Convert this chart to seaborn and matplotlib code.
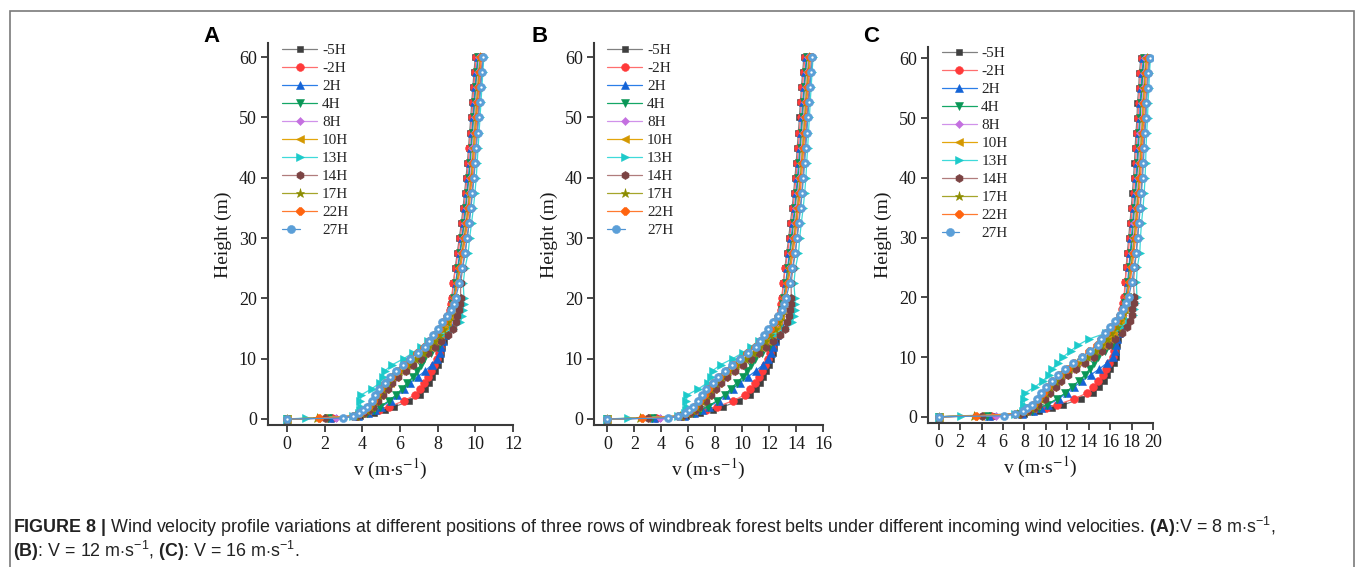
import matplotlib
matplotlib.use("Agg")
import matplotlib.pyplot as plt
import seaborn as sns
from matplotlib.patches import Rectangle
from matplotlib.legend_handler import HandlerTuple

# ---------------- data ----------------
H = [0, 0.15, 0.5, 1, 1.5, 2, 3, 4, 5, 6, 7, 8, 9, 10, 11, 12, 13, 14, 15, 16, 17, 18, 19,
     20, 22.5, 25, 27.5, 30, 32.5, 35, 37.5, 40, 42.5, 45, 47.5, 50, 52.5, 55, 57.5, 60]

LABELS = ['-5H', '-2H', '2H', '4H', '8H', '10H', '13H', '14H', '17H', '22H', '27H']

# Panel A (V = 8 m/s)
A_m5H = [0, 2.5, 3.9, 4.6, 5.2, 5.7, 6.5, 7.05, 7.35, 7.55, 7.7, 7.85, 8.0, 8.1, 8.18, 8.25, 8.32, 8.4, 8.48, 8.55, 8.62, 8.67, 8.72,
         8.76, 8.84, 8.93, 9.04, 9.15, 9.26, 9.35, 9.43, 9.51, 9.58, 9.64, 9.7, 9.76, 9.81, 9.87, 9.93, 10.0]
A_m2H = [0, 2.4, 3.7, 4.3, 4.9, 5.4, 6.2, 6.8, 7.05, 7.3, 7.5, 7.65, 7.8, 7.95, 8.05, 8.12, 8.2, 8.3, 8.4, 8.5, 8.6, 8.65, 8.7,
         8.74, 8.83, 8.95, 9.08, 9.2, 9.31, 9.4, 9.48, 9.56, 9.63, 9.69, 9.75, 9.81, 9.86, 9.92, 9.98, 10.05]
A_2H = [0, 2.3, 3.8, 4.3, 4.7, 5.0, 5.5, 5.85, 6.2, 6.55, 6.95, 7.35, 7.7, 7.95, 8.1, 8.2, 8.3, 8.4, 8.5, 8.58, 8.65, 8.72, 8.78,
        8.83, 8.95, 9.06, 9.17, 9.28, 9.38, 9.47, 9.55, 9.63, 9.7, 9.76, 9.82, 9.88, 9.93, 9.99, 10.05, 10.12]
A_4H = [0, 2.2, 3.7, 4.25, 4.6, 4.95, 5.4, 5.8, 6.1, 6.4, 6.7, 6.9, 7.1, 7.3, 7.65, 8.0, 8.2, 8.35, 8.48, 8.58, 8.66, 8.74, 8.8,
        8.86, 8.99, 9.1, 9.21, 9.32, 9.42, 9.51, 9.59, 9.67, 9.74, 9.8, 9.86, 9.92, 9.97, 10.03, 10.09, 10.16]
A_8H = [0, 2.6, 3.7, 4.1, 4.35, 4.55, 4.8, 5.0, 5.25, 5.5, 5.8, 6.2, 6.6, 7.0, 7.45, 7.75, 8.0, 8.2, 8.4, 8.55, 8.65, 8.74, 8.82,
        8.88, 9.02, 9.14, 9.26, 9.37, 9.47, 9.56, 9.64, 9.72, 9.79, 9.85, 9.91, 9.97, 10.02, 10.08, 10.14, 10.21]
A_10H = [0, 1.9, 3.6, 4.0, 4.25, 4.45, 4.7, 4.95, 5.2, 5.45, 5.75, 6.1, 6.5, 6.95, 7.3, 7.6, 7.9, 8.15, 8.35, 8.5, 8.62, 8.72, 8.8,
         8.87, 9.03, 9.16, 9.29, 9.41, 9.52, 9.61, 9.69, 9.77, 9.84, 9.9, 9.96, 10.02, 10.07, 10.13, 10.19, 10.26]
A_13H = [0, 1.0, 3.5, 3.85, 3.9, 3.92, 3.9, 3.95, 4.5, 4.95, 5.1, 5.2, 5.6, 6.2, 6.7, 7.1, 7.5, 8.2, 8.8, 9.2, 9.3, 9.35, 9.38,
         9.4, 9.36, 9.45, 9.62, 9.7, 9.8, 9.9, 9.98, 10.05, 10.1, 10.15, 10.2, 10.25, 10.3, 10.35, 10.4, 10.45]
A_14H = [0, 2.0, 3.7, 4.1, 4.35, 4.55, 4.85, 5.1, 5.35, 5.6, 5.9, 6.3, 6.7, 7.1, 7.5, 7.85, 8.2, 8.55, 8.8, 8.95, 9.05, 9.12, 9.18,
         9.22, 9.22, 9.33, 9.46, 9.56, 9.66, 9.75, 9.83, 9.9, 9.96, 10.02, 10.08, 10.14, 10.19, 10.25, 10.31, 10.38]
A_17H = [0, 1.6, 3.6, 3.95, 4.2, 4.4, 4.65, 4.85, 5.05, 5.3, 5.6, 5.95, 6.35, 6.8, 7.2, 7.5, 7.8, 8.05, 8.3, 8.48, 8.62, 8.72, 8.8,
         8.87, 9.02, 9.16, 9.3, 9.42, 9.53, 9.62, 9.7, 9.78, 9.85, 9.91, 9.97, 10.03, 10.08, 10.14, 10.2, 10.27]
A_22H = [0, 1.7, 3.5, 3.9, 4.1, 4.3, 4.55, 4.75, 4.95, 5.2, 5.5, 5.85, 6.2, 6.55, 6.9, 7.3, 7.55, 7.8, 8.05, 8.3, 8.5, 8.7, 8.82,
         8.9, 9.07, 9.21, 9.35, 9.47, 9.58, 9.67, 9.75, 9.83, 9.9, 9.96, 10.02, 10.08, 10.13, 10.19, 10.25, 10.32]
A_27H = [0, 3.0, 3.5, 3.85, 4.05, 4.25, 4.5, 4.7, 4.9, 5.2, 5.45, 5.8, 6.15, 6.55, 6.95, 7.35, 7.55, 7.75, 8.0, 8.25, 8.5, 8.7, 8.85,
         8.95, 9.15, 9.3, 9.45, 9.57, 9.68, 9.77, 9.85, 9.93, 10.0, 10.06, 10.12, 10.18, 10.23, 10.29, 10.35, 10.42]

# Panel B (V = 12 m/s)
B_m5H = [0, 3.75, 5.85, 6.9, 7.8, 8.55, 9.75, 10.58, 11.03, 11.33, 11.55, 11.78, 12.0, 12.15, 12.27, 12.38, 12.48, 12.6, 12.67, 12.75, 12.83, 12.87, 12.93,
         12.96, 13.06, 13.17, 13.31, 13.45, 13.58, 13.71, 13.82, 13.92, 14.01, 14.09, 14.17, 14.25, 14.32, 14.4, 14.49, 14.58]
B_m2H = [0, 3.6, 5.55, 6.45, 7.35, 8.1, 9.3, 10.2, 10.58, 10.95, 11.25, 11.48, 11.7, 11.93, 12.08, 12.18, 12.3, 12.45, 12.55, 12.67, 12.8, 12.85, 12.9,
         12.93, 13.05, 13.2, 13.37, 13.52, 13.66, 13.78, 13.89, 13.99, 14.09, 14.17, 14.25, 14.33, 14.39, 14.47, 14.56, 14.66]
B_2H = [0, 3.45, 5.7, 6.45, 7.05, 7.5, 8.25, 8.78, 9.3, 9.83, 10.43, 11.03, 11.55, 11.93, 12.15, 12.3, 12.45, 12.6, 12.7, 12.79, 12.88, 12.95, 13.02,
        13.07, 13.23, 13.36, 13.51, 13.64, 13.76, 13.89, 14.0, 14.1, 14.19, 14.27, 14.35, 14.43, 14.5, 14.58, 14.67, 14.76]
B_4H = [0, 3.3, 5.55, 6.38, 6.9, 7.43, 8.1, 8.7, 9.15, 9.6, 10.05, 10.35, 10.65, 10.95, 11.48, 12.0, 12.3, 12.53, 12.67, 12.79, 12.89, 12.98, 13.05,
        13.11, 13.29, 13.42, 13.57, 13.7, 13.82, 13.95, 14.06, 14.16, 14.25, 14.33, 14.41, 14.49, 14.56, 14.64, 14.73, 14.82]
B_8H = [0, 3.9, 5.55, 6.15, 6.53, 6.83, 7.2, 7.5, 7.88, 8.25, 8.7, 9.3, 9.9, 10.5, 11.18, 11.63, 12.0, 12.3, 12.55, 12.75, 12.88, 12.98, 13.08,
        13.14, 13.33, 13.48, 13.64, 13.78, 13.9, 14.02, 14.13, 14.23, 14.33, 14.41, 14.49, 14.57, 14.63, 14.71, 14.8, 14.9]
B_10H = [0, 2.85, 5.4, 6.0, 6.38, 6.68, 7.05, 7.43, 7.8, 8.18, 8.63, 9.15, 9.75, 10.43, 10.95, 11.4, 11.85, 12.23, 12.48, 12.67, 12.83, 12.95, 13.05,
         13.13, 13.35, 13.51, 13.69, 13.84, 13.97, 14.1, 14.21, 14.31, 14.4, 14.48, 14.56, 14.64, 14.71, 14.79, 14.88, 14.97]
B_13H = [0, 1.5, 5.25, 5.78, 5.85, 5.88, 5.85, 5.93, 6.75, 7.43, 7.65, 7.8, 8.4, 9.3, 10.05, 10.65, 11.25, 12.3, 13.15, 13.72, 13.85, 13.9, 13.92,
         13.92, 13.84, 13.95, 14.18, 14.27, 14.39, 14.53, 14.64, 14.73, 14.79, 14.86, 14.92, 14.99, 15.05, 15.12, 15.19, 15.26]
B_14H = [0, 3.0, 5.55, 6.15, 6.53, 6.83, 7.28, 7.65, 8.03, 8.4, 8.85, 9.45, 10.05, 10.65, 11.25, 11.78, 12.3, 12.83, 13.15, 13.35, 13.48, 13.55, 13.62,
         13.65, 13.63, 13.77, 13.94, 14.06, 14.18, 14.31, 14.42, 14.5, 14.58, 14.66, 14.74, 14.82, 14.89, 14.97, 15.06, 15.15]
B_17H = [0, 2.4, 5.4, 5.93, 6.3, 6.6, 6.98, 7.28, 7.58, 7.95, 8.4, 8.93, 9.53, 10.2, 10.8, 11.25, 11.7, 12.08, 12.4, 12.64, 12.83, 12.95, 13.05,
         13.13, 13.33, 13.51, 13.7, 13.85, 13.99, 14.11, 14.22, 14.32, 14.42, 14.5, 14.58, 14.66, 14.72, 14.8, 14.89, 14.99]
B_22H = [0, 2.55, 5.25, 5.85, 6.15, 6.45, 6.83, 7.13, 7.43, 7.8, 8.25, 8.78, 9.3, 9.83, 10.35, 10.95, 11.33, 11.7, 12.03, 12.37, 12.65, 12.92, 13.08,
         13.17, 13.41, 13.59, 13.78, 13.93, 14.06, 14.19, 14.3, 14.4, 14.49, 14.57, 14.65, 14.73, 14.8, 14.88, 14.97, 15.06]
B_27H = [0, 4.5, 5.25, 5.78, 6.08, 6.38, 6.75, 7.05, 7.35, 7.8, 8.18, 8.7, 9.23, 9.83, 10.43, 11.03, 11.33, 11.63, 11.95, 12.3, 12.65, 12.92, 13.13,
         13.25, 13.53, 13.72, 13.93, 14.08, 14.21, 14.34, 14.45, 14.55, 14.64, 14.72, 14.8, 14.88, 14.95, 15.03, 15.12, 15.21]

# Panel C (V = 16 m/s)
C_m5H = [0, 5.1, 7.96, 9.38, 10.61, 11.63, 13.26, 14.38, 14.99, 15.4, 15.71, 16.01, 16.32, 16.52, 16.58, 16.65, 16.72, 16.8, 16.96, 17.01, 17.15, 17.17, 17.26,
         17.34, 17.41, 17.49, 17.61, 17.73, 17.85, 17.97, 18.08, 18.18, 18.27, 18.33, 18.41, 18.51, 18.55, 18.66, 18.73, 18.86]
C_m2H = [0, 4.9, 7.55, 8.77, 10.0, 11.02, 12.65, 13.87, 14.38, 14.89, 15.3, 15.61, 15.91, 16.22, 16.32, 16.39, 16.48, 16.6, 16.8, 16.91, 17.11, 17.13, 17.22,
         17.3, 17.39, 17.53, 17.69, 17.83, 17.95, 18.07, 18.18, 18.28, 18.37, 18.43, 18.51, 18.61, 18.65, 18.76, 18.83, 18.96]
C_2H = [0, 4.69, 7.75, 8.77, 9.59, 10.2, 11.22, 11.93, 12.65, 13.36, 14.18, 14.99, 15.71, 16.22, 16.42, 16.55, 16.68, 16.8, 17.0, 17.07, 17.21, 17.27, 17.38,
        17.48, 17.63, 17.75, 17.87, 17.99, 18.09, 18.21, 18.32, 18.42, 18.51, 18.57, 18.65, 18.75, 18.79, 18.9, 18.97, 19.1]
C_4H = [0, 4.49, 7.55, 8.67, 9.38, 10.1, 11.02, 11.83, 12.44, 13.06, 13.67, 14.08, 14.48, 14.89, 15.52, 16.15, 16.48, 16.7, 16.96, 17.07, 17.23, 17.31, 17.42,
        17.54, 17.71, 17.83, 17.95, 18.07, 18.17, 18.29, 18.4, 18.5, 18.59, 18.65, 18.73, 18.83, 18.87, 18.98, 19.05, 19.18]
C_8H = [0, 5.3, 7.55, 8.36, 8.87, 9.28, 9.79, 10.2, 10.71, 11.22, 11.83, 12.65, 13.46, 14.28, 15.12, 15.65, 16.08, 16.4, 16.8, 17.01, 17.21, 17.31, 17.46,
        17.58, 17.77, 17.91, 18.05, 18.17, 18.27, 18.39, 18.5, 18.6, 18.69, 18.75, 18.83, 18.93, 18.97, 19.08, 19.15, 19.28]
C_10H = [0, 3.88, 7.34, 8.16, 8.67, 9.08, 9.59, 10.1, 10.61, 11.12, 11.73, 12.44, 13.26, 14.18, 14.82, 15.35, 15.88, 16.3, 16.7, 16.91, 17.15, 17.27, 17.42,
         17.56, 17.79, 17.95, 18.11, 18.25, 18.37, 18.49, 18.6, 18.7, 18.79, 18.85, 18.93, 19.03, 19.07, 19.18, 19.25, 19.38]
C_13H = [0, 2.04, 7.14, 7.85, 7.96, 8.0, 7.96, 8.06, 9.0, 9.7, 10.3, 10.6, 11.1, 11.6, 12.3, 13.0, 14.0, 15.6, 16.9, 17.8, 18.1, 18.2, 18.35,
         18.5, 18.45, 18.53, 18.77, 18.83, 18.93, 19.07, 19.18, 19.26, 19.31, 19.35, 19.41, 19.49, 19.53, 19.62, 19.67, 19.76]
C_14H = [0, 4.08, 7.55, 8.36, 8.87, 9.28, 9.89, 10.4, 10.91, 11.42, 12.04, 12.85, 13.67, 14.48, 15.22, 15.85, 16.48, 17.1, 17.6, 17.81, 18.01, 18.07, 18.18,
         18.26, 18.17, 18.29, 18.45, 18.55, 18.65, 18.77, 18.88, 18.96, 19.03, 19.09, 19.17, 19.27, 19.31, 19.42, 19.49, 19.62]
C_17H = [0, 3.26, 7.34, 8.06, 8.57, 8.98, 9.49, 9.89, 10.3, 10.81, 11.42, 12.14, 12.95, 13.87, 14.62, 15.15, 15.68, 16.1, 16.6, 16.87, 17.15, 17.27, 17.42,
         17.56, 17.77, 17.95, 18.13, 18.27, 18.39, 18.51, 18.62, 18.72, 18.81, 18.87, 18.95, 19.05, 19.09, 19.2, 19.27, 19.4]
C_22H = [0, 3.47, 7.14, 7.96, 8.36, 8.77, 9.28, 9.69, 10.1, 10.61, 11.22, 11.93, 12.65, 13.36, 14.02, 14.75, 15.18, 15.6, 16.1, 16.51, 16.91, 17.23, 17.46,
         17.62, 17.87, 18.05, 18.23, 18.37, 18.49, 18.61, 18.72, 18.82, 18.91, 18.97, 19.05, 19.15, 19.19, 19.3, 19.37, 19.5]
C_27H = [0, 6.12, 7.14, 7.85, 8.26, 8.67, 9.18, 9.59, 10.0, 10.61, 11.12, 11.83, 12.55, 13.36, 14.12, 14.85, 15.18, 15.5, 16.0, 16.41, 16.91, 17.23, 17.52,
         17.72, 18.03, 18.23, 18.43, 18.57, 18.69, 18.81, 18.92, 19.02, 19.11, 19.17, 19.25, 19.35, 19.39, 19.5, 19.57, 19.7]

XTICKS_A = [0, 2, 4, 6, 8, 10, 12]
XTICKS_B = [0, 2, 4, 6, 8, 10, 12, 14, 16]
XTICKS_C = [0, 2, 4, 6, 8, 10, 12, 14, 16, 18, 20]
YTICKS = [0, 10, 20, 30, 40, 50, 60]

SERIES_A = [A_m5H, A_m2H, A_2H, A_4H, A_8H, A_10H, A_13H, A_14H, A_17H, A_22H, A_27H]
SERIES_B = [B_m5H, B_m2H, B_2H, B_4H, B_8H, B_10H, B_13H, B_14H, B_17H, B_22H, B_27H]
SERIES_C = [C_m5H, C_m2H, C_2H, C_4H, C_8H, C_10H, C_13H, C_14H, C_17H, C_22H, C_27H]

# ---------------- styles ----------------
STYLES = [
    dict(m='s', ms=5.0, lc='#808080', mc='#3f3f3f'),
    dict(m='o', ms=5.6, lc='#ff6e6e', mc='#ff3a3a'),
    dict(m='^', ms=5.6, lc='#2b7ee8', mc='#1463d6'),
    dict(m='v', ms=5.6, lc='#14a766', mc='#0a9656'),
    dict(m='D', ms=4.2, lc='#d092ea', mc='#c470e0'),
    dict(m='<', ms=5.6, lc='#e3a60c', mc='#d49800'),
    dict(m='>', ms=5.6, lc='#3fdada', mc='#1ccaca'),
    dict(m='h', ms=5.8, lc='#b07c7c', mc='#7b4343'),
    dict(m='*', ms=6.8, lc='#a5a52a', mc='#8c8c00'),
    dict(m='8', ms=5.6, lc='#ff7a30', mc='#ff6410'),
    dict(m='o', ms=5.8, lc='#4f93d2', mc='#5b9fd8'),
]

sns.set_theme(style='ticks')
plt.rcParams['font.family'] = ['Liberation Serif', 'DejaVu Serif']
plt.rcParams['mathtext.fontset'] = 'custom'
plt.rcParams['mathtext.rm'] = 'Liberation Sans'
plt.rcParams['mathtext.bf'] = 'Liberation Sans:bold'
plt.rcParams['mathtext.it'] = 'Liberation Sans:italic'
plt.rcParams['mathtext.sf'] = 'Liberation Sans'

W, HPX = 1355, 567
fig = plt.figure(figsize=(W / 100, HPX / 100), dpi=100)
fig.patch.set_facecolor('white')


def fx(px):
    return px / W


def fy(py):
    return 1 - py / HPX


def panel(rect, series, xlim, ylim, xticks, leg_x):
    ax = fig.add_axes(rect)
    ax.set_facecolor('white')
    handles = []
    for lab, v, st in zip(LABELS, series, STYLES):
        sns.lineplot(x=v, y=H, sort=False, estimator=None, ax=ax, legend=False,
                     color=st['lc'], lw=0.9, marker=st['m'], markersize=st['ms'],
                     markerfacecolor=st['mc'], markeredgecolor=st['mc'],
                     markeredgewidth=0.4)
        line = ax.lines[-1]
        if lab == '27H':
            sns.lineplot(x=v, y=H, sort=False, estimator=None, ax=ax, legend=False,
                         lw=0, marker='o', markersize=1.7, markerfacecolor='white',
                         markeredgecolor='white', markeredgewidth=0)
            dot = ax.lines[-1]
            handles.append((line, dot))
        else:
            handles.append(line)
    ax.set_xlim(*xlim)
    ax.set_ylim(*ylim)
    ax.set_xticks(xticks)
    ax.set_yticks(YTICKS)
    ax.set_xticklabels([str(t) for t in xticks])
    ax.set_yticklabels([str(t) for t in YTICKS])
    sns.despine(ax=ax)
    for s in ['left', 'bottom']:
        ax.spines[s].set_color('#3a3a3a')
        ax.spines[s].set_linewidth(1.5)
    ax.tick_params(direction='out', length=5, width=1.3, color='#3a3a3a',
                   labelsize=13, pad=3, labelcolor='#1a1a1a')
    ax.set_xlabel(r'v (m$\cdot$s$^{-1}$)', fontsize=14, labelpad=3,
                  math_fontfamily='stix', color='#1a1a1a')
    ax.set_ylabel('Height (m)', fontsize=14, labelpad=5, color='#1a1a1a')
    ax.legend(handles, LABELS, loc='upper left', bbox_to_anchor=(leg_x, 1.0),
              frameon=False, fontsize=11, handlelength=2.3, handletextpad=0.3,
              labelspacing=0.28, borderaxespad=0, borderpad=0, numpoints=1,
              handler_map={tuple: HandlerTuple(ndivide=None, pad=0)})
    return ax


top_ab, bot_ab = 43.5, 425
panel([fx(268), fy(bot_ab), fx(245), (bot_ab - top_ab) / HPX], SERIES_A,
      (-1, 12), (-1, 62.27), XTICKS_A, 0.058)
panel([fx(594), fy(bot_ab), fx(229), (bot_ab - top_ab) / HPX], SERIES_B,
      (-1, 16), (-1, 62.27), XTICKS_B, 0.058)
top_c, bot_c = 46.5, 422.7
panel([fx(928), fy(bot_c), fx(225), (bot_c - top_c) / HPX], SERIES_C,
      (-1, 20), (-1, 62.0), XTICKS_C, 0.06)

for letter, px in [('A', 212), ('B', 540), ('C', 871)]:
    fig.text(fx(px), fy(36), letter, ha='center', va='center', fontsize=16,
             fontweight='bold', family='Liberation Sans', color='black')

cap1 = (r"$\mathbf{FIGURE\ 8\ |}$ Wind velocity profile variations at different positions of three rows "
        r"of windbreak forest belts under different incoming wind velocities. "
        r"$\mathbf{(A)}$:V = 8 m$\cdot$s$^{-1}$,")
cap2 = r"$\mathbf{(B)}$: V = 12 m$\cdot$s$^{-1}$, $\mathbf{(C)}$: V = 16 m$\cdot$s$^{-1}$."
fig.text(fx(13), fy(527), cap1, ha='left', va='center', fontsize=12.9,
         family='Liberation Sans', math_fontfamily='custom', color='#222222')
fig.text(fx(13), fy(551), cap2, ha='left', va='center', fontsize=12.9,
         family='Liberation Sans', math_fontfamily='custom', color='#222222')

fig.add_artist(Rectangle((fx(9.5), -0.1), fx(1354 - 9.5), fy(10.7) + 0.1,
                         transform=fig.transFigure, fill=False,
                         edgecolor='#7a7a7a', lw=1.2))

fig.savefig('out.png', dpi=100, facecolor='white')
